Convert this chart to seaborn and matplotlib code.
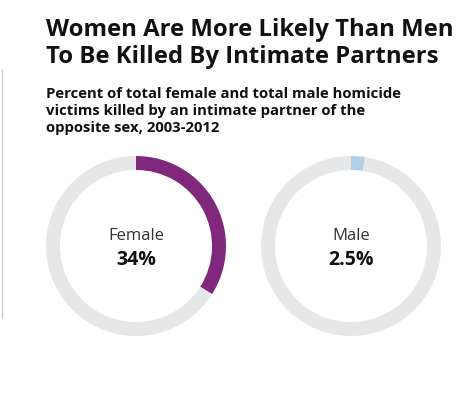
import matplotlib
matplotlib.use("Agg")
import matplotlib.pyplot as plt
from matplotlib import font_manager as fm
import seaborn as sns

# ====================== data ======================

groups = ["Female", "Male"]
shares = [34, 2.5]
share_labels = ["34%", "2.5%"]
colors = ["#80287b", "#b3cfe6"]
track_color = "#e6e7e9"

title_lines = ["Women Are More Likely Than Men",
               "To Be Killed By Intimate Partners"]
subtitle_lines = ["Percent of total female and total male homicide",
                  "victims killed by an intimate partner of the",
                  "opposite sex, 2003-2012"]

# ====================== fonts ======================

sns.set_theme(style="white")
plt.rcParams['font.family'] = ['Open Sans', 'DejaVu Sans']


def font_file(name):
    for f in fm.fontManager.ttflist:
        if f.fname.endswith(name):
            return f.fname
    return None


bold_file = font_file("OpenSans-Bold.ttf")
reg_file = font_file("OpenSans-Regular.ttf")


def fp(path, size, weight):
    if path:
        return fm.FontProperties(fname=path, size=size)
    return fm.FontProperties(family='Open Sans', weight=weight, size=size)


# ====================== figure ======================

W, H = 466, 402
fig = plt.figure(figsize=(W / 100, H / 100), dpi=100)

for line, base in zip(title_lines, [36, 63]):
    fig.text(46 / W, 1 - base / H, line, fontproperties=fp(bold_file, 17.2, 'bold'),
             color='#111111', va='baseline', ha='left')
for line, base in zip(subtitle_lines, [98, 115, 132]):
    fig.text(46 / W, 1 - base / H, line, fontproperties=fp(bold_file, 10.7, 'bold'),
             color='#111111', va='baseline', ha='left')

# grey rule on the left
fig.add_artist(plt.Line2D([2 / W, 2 / W], [1 - 70 / H, 1 - 319 / H],
                          color='#cccccc', lw=1))

centers = [(136, 247), (351, 247)]
radius = 90
for (cx, cy), name, val, lab, col in zip(centers, groups, shares,
                                          share_labels, colors):
    ax = fig.add_axes([(cx - radius) / W, 1 - (cy + radius) / H,
                       2 * radius / W, 2 * radius / H])
    ax.pie([val, 100 - val], colors=[col, track_color], startangle=90,
           counterclock=False, radius=1,
           wedgeprops=dict(width=0.155, edgecolor='none'))
    ax.set_xlim(-1, 1)
    ax.set_ylim(-1, 1)
    ax.set_aspect('equal')
    ax.axis('off')
    ax.text(0, 0.08, name, ha='center', va='baseline',
            fontproperties=fp(reg_file, 12, 'normal'), color='#333333')
    ax.text(0, -0.2, lab, ha='center', va='baseline',
            fontproperties=fp(bold_file, 14, 'bold'), color='#111111')

fig.savefig("out.png", dpi=100)
